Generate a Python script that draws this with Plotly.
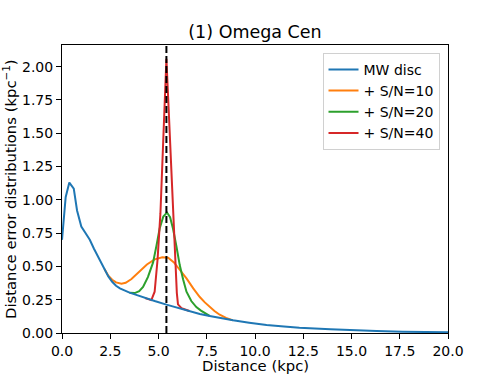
import plotly.graph_objects as go

# MW disc distance distribution
mw_x = [0, 0.19, 0.38, 0.61, 0.78, 1.0, 1.2, 1.44, 1.65, 1.87, 2.0, 2.2, 2.4, 2.6, 2.8, 3.0,
        3.25, 3.5, 3.77, 4.3, 4.8, 5.41, 6.1, 6.6, 7.14, 7.65, 8.2, 8.86, 9.7, 10.6, 11.5,
        12.3, 13.9, 15.07, 16.3, 17.65, 20.0]
mw_y = [0.70, 1.02, 1.13, 1.085, 0.92, 0.80, 0.755, 0.70, 0.635, 0.57, 0.535, 0.48, 0.425,
        0.385, 0.355, 0.335, 0.316, 0.303, 0.29, 0.262, 0.24, 0.213, 0.185, 0.165, 0.143,
        0.128, 0.112, 0.095, 0.077, 0.06, 0.049, 0.04, 0.028, 0.02, 0.015, 0.01, 0.005]

# + cluster, S/N=10
sn10_x = [2.2, 2.4, 2.6, 2.8, 3.08, 3.3, 3.6, 4.0, 4.4, 4.8, 5.2, 5.5, 5.8, 6.1, 6.45, 6.8,
          7.14, 7.4, 7.66, 7.9, 8.17, 8.5, 8.86]
sn10_y = [0.48, 0.43, 0.40, 0.38, 0.37, 0.377, 0.405, 0.46, 0.515, 0.553, 0.568, 0.565, 0.53,
          0.475, 0.41, 0.335, 0.27, 0.23, 0.195, 0.165, 0.137, 0.113, 0.095]

# + cluster, S/N=20
sn20_x = [3.5, 3.77, 4.0, 4.2, 4.45, 4.72, 4.9, 5.06, 5.25, 5.44, 5.6, 5.75, 5.93, 6.1, 6.28,
          6.45, 6.7, 6.96, 7.2, 7.39, 7.65]
sn20_y = [0.303, 0.30, 0.315, 0.346, 0.42, 0.53, 0.66, 0.785, 0.875, 0.905, 0.87, 0.785, 0.65,
          0.51, 0.40, 0.31, 0.24, 0.195, 0.168, 0.153, 0.128]

# + cluster, S/N=40
sn40_x = [4.3, 4.63, 4.8, 4.95, 5.1, 5.2, 5.3, 5.41, 5.52, 5.63, 5.72, 5.85, 5.95, 6.01, 6.19, 6.6]
sn40_y = [0.262, 0.247, 0.31, 0.55, 0.9, 1.3, 1.7, 2.06, 1.7, 1.32, 1.0, 0.55, 0.3, 0.215, 0.187, 0.165]

omega_cen_dist = 5.41

x_ticks = [0, 2.5, 5, 7.5, 10, 12.5, 15, 17.5, 20]
y_ticks = [0, 0.25, 0.5, 0.75, 1.0, 1.25, 1.5, 1.75, 2.0]

FONT = "DejaVu Sans"

fig = go.Figure()

fig.add_trace(go.Scatter(x=sn10_x, y=sn10_y, mode="lines", name="+ S/N=10",
                         line=dict(color="#ff7f0e", width=2), legendrank=2))
fig.add_trace(go.Scatter(x=sn20_x, y=sn20_y, mode="lines", name="+ S/N=20",
                         line=dict(color="#2ca02c", width=2), legendrank=3))
fig.add_trace(go.Scatter(x=sn40_x, y=sn40_y, mode="lines", name="+ S/N=40",
                         line=dict(color="#d62728", width=2), legendrank=4))
# blue on top
fig.add_trace(go.Scatter(x=mw_x, y=mw_y, mode="lines", name="MW disc",
                         line=dict(color="#1f77b4", width=2), legendrank=1))

fig.add_vline(x=omega_cen_dist, line=dict(color="black", width=2, dash="7px,3px"))

axis_style = dict(
    showline=True, linecolor="black", linewidth=1, mirror=True,
    ticks="outside", ticklen=5, tickwidth=1, tickcolor="black",
    showgrid=False, zeroline=False, automargin=False,
    tickfont=dict(family=FONT, size=14, color="black"),
)

# axis titles as annotations so they sit where matplotlib put them
fig.add_annotation(text="Distance (kpc)", xref="paper", yref="paper", x=0.5, y=0,
                   yshift=-32, xanchor="center", yanchor="middle", showarrow=False,
                   font=dict(family=FONT, size=14.8, color="black"))
fig.add_annotation(text="Distance error distributions (kpc<sup>−1</sup>)", xref="paper",
                   yref="paper", x=-53 / 386, y=0.5, textangle=-90, xanchor="center",
                   yanchor="middle", showarrow=False,
                   font=dict(family=FONT, size=14.8, color="black"))

fig.update_layout(
    width=498, height=374,
    margin=dict(l=62, r=50, t=45, b=41, autoexpand=False),
    paper_bgcolor="white", plot_bgcolor="white",
    font=dict(family=FONT, size=14, color="black"),
    title=dict(text="(1) Omega Cen", x=0.5, xref="paper", y=1 - 32 / 374, yanchor="middle",
               automargin=False, font=dict(family=FONT, size=17.5, color="black")),
    xaxis=dict(range=[0, 20], tickvals=x_ticks, tickformat=".1f", **axis_style),
    yaxis=dict(range=[0, 2.163], tickvals=y_ticks, tickformat=".2f", **axis_style),
    legend=dict(x=0.978, y=0.973, xanchor="right", yanchor="top",
                bgcolor="rgba(255,255,255,0.8)", bordercolor="#d0d0d0", borderwidth=1,
                font=dict(family=FONT, size=14)),
    showlegend=True,
)

# drop the page's default 8px body margin so the figure fills the window
fig.write_html("out.html", config={"displayModeBar": False},
               post_script="document.body.style.margin = '0';")
